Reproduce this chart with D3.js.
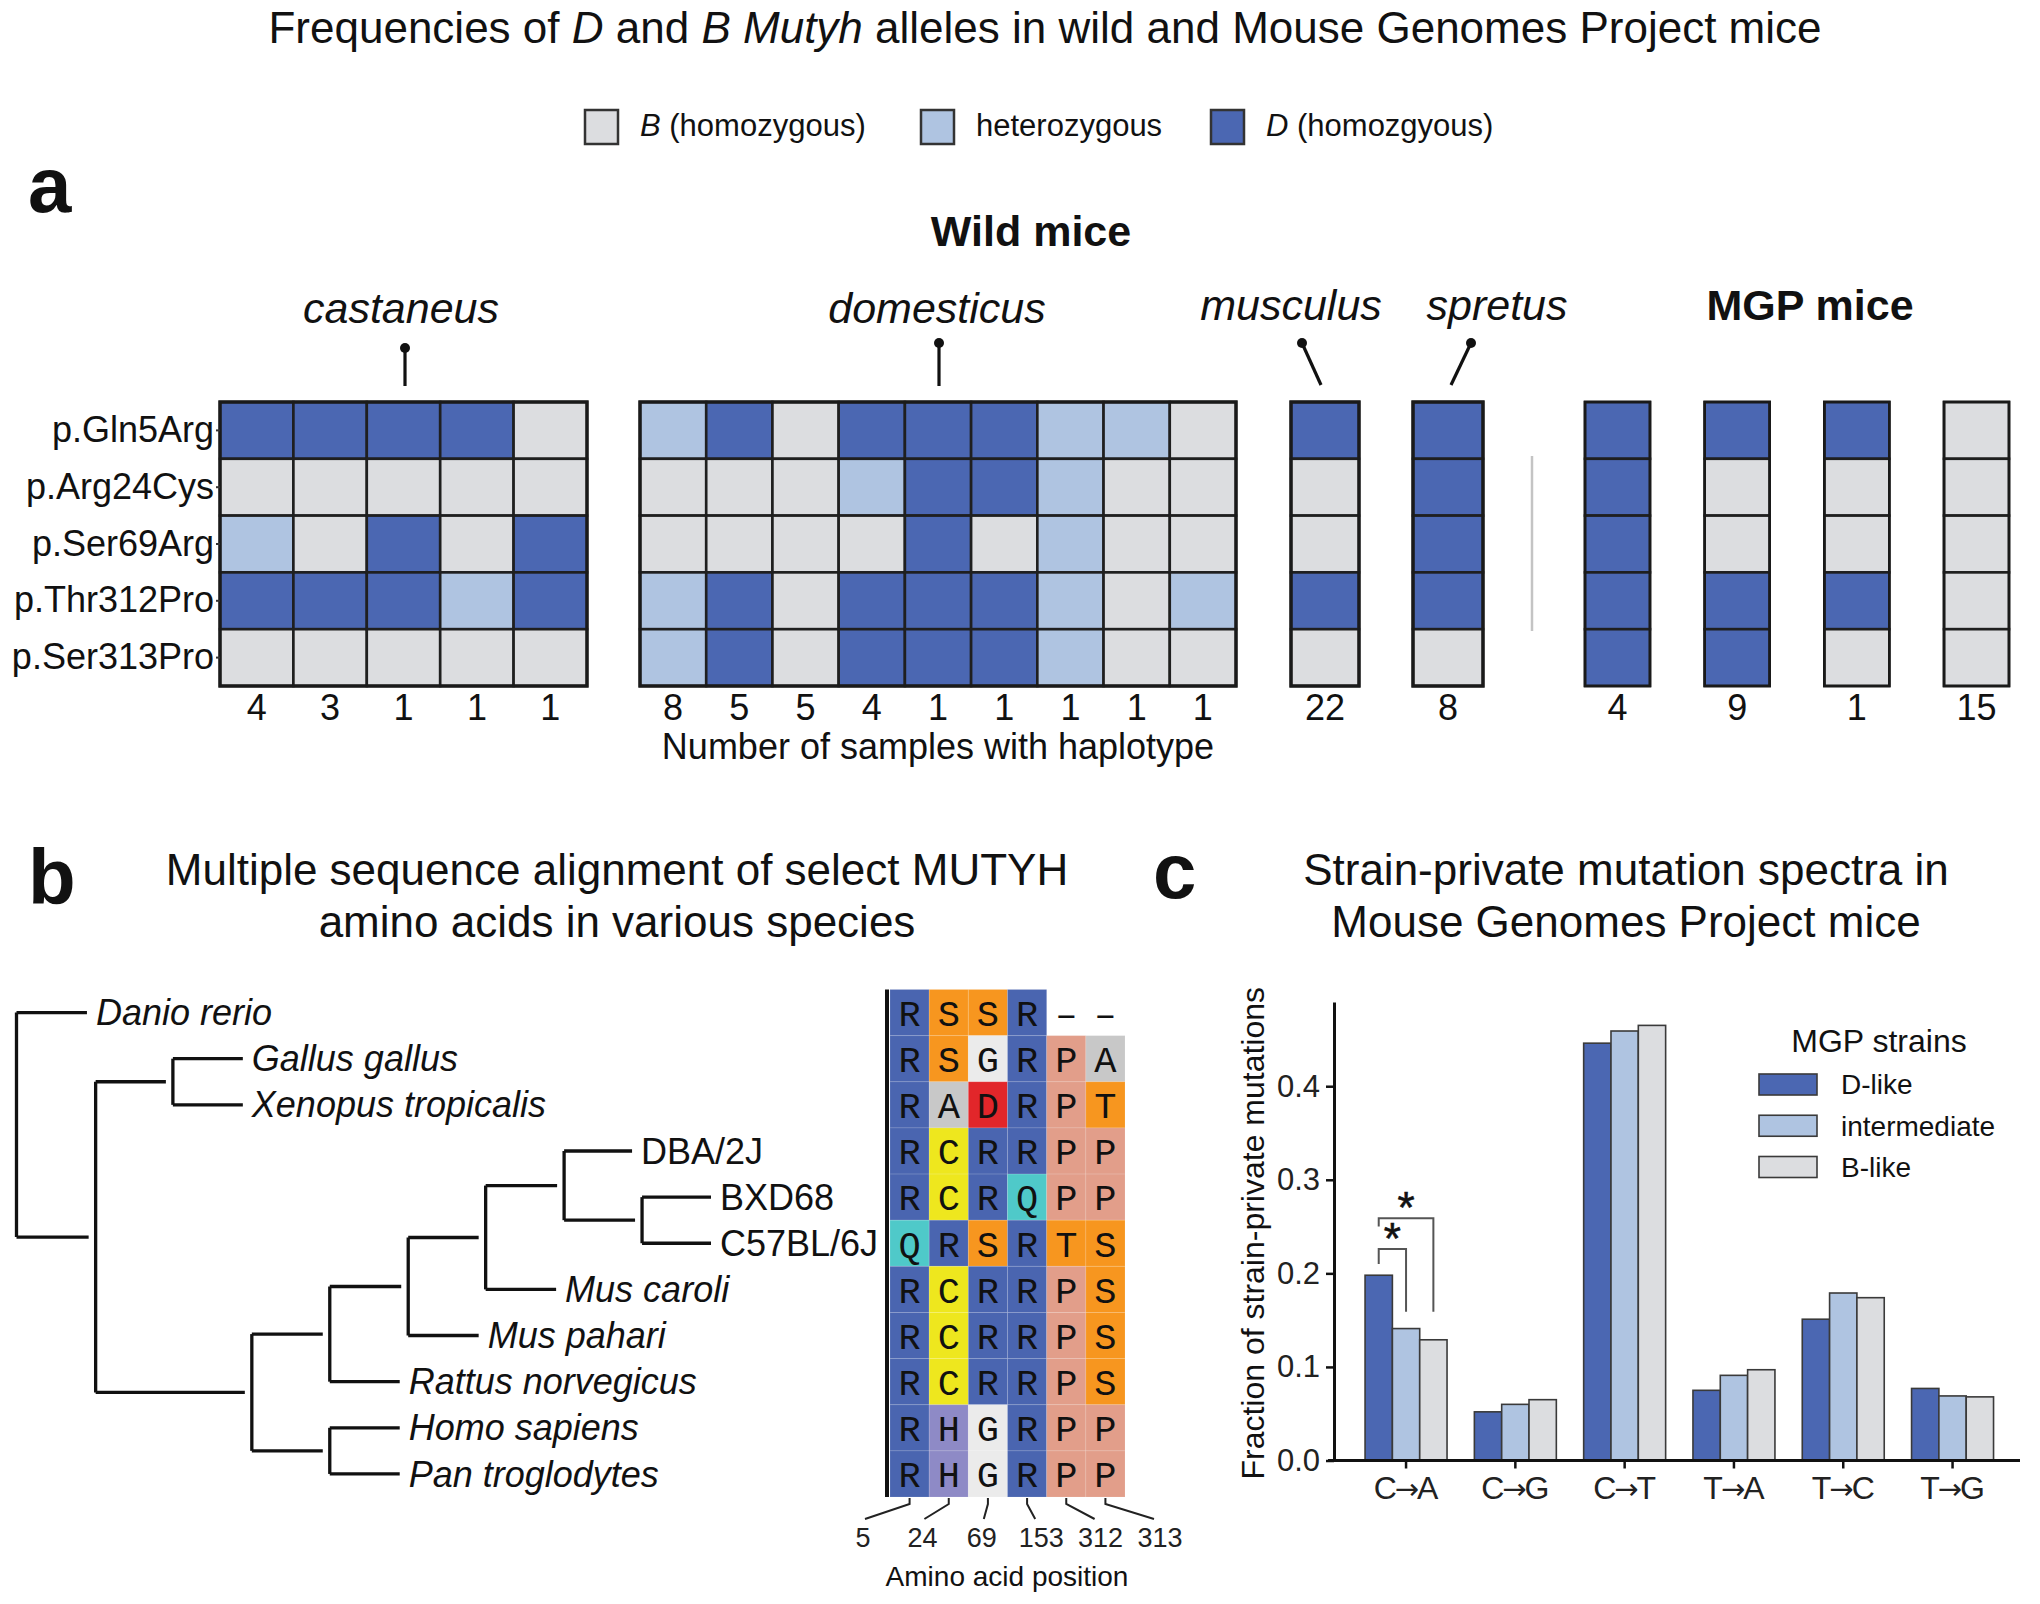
<!DOCTYPE html>
<html><head><meta charset="utf-8">
<script src="https://cdn.jsdelivr.net/npm/d3@7"></script>
<style>
body{margin:0;background:#fff;}
svg{display:block;font-family:"Liberation Sans",Arial,Helvetica,sans-serif;}
</style></head><body>
<svg id="fig" width="2040" height="1604"></svg>
<script>
// ================= DATA =================
// Panel a
const mutations = ["p.Gln5Arg","p.Arg24Cys","p.Ser69Arg","p.Thr312Pro","p.Ser313Pro"];
const genotypes = ["B","H","D"];
const genotypeLegend = [["B"," (homozygous)"],["","heterozygous"],["D"," (homozgyous)"]];
// each string = one haplotype column, letters in the order of `mutations`
const castaneusHaplotypes = ["DBHDB","DBBDB","DBDDB","DBBHB","BBDDB"];
const castaneusCounts = [4,3,1,1,1];
const domesticusHaplotypes = ["HBBHH","DBBDD","BBBBB","DHBDD","DDDDD","DDBDD","HHHHH","HBBBB","BBBHB"];
const domesticusCounts = [8,5,5,4,1,1,1,1,1];
const musculusHaplotypes = ["DBBDB"];
const musculusCounts = [22];
const spretusHaplotypes = ["DDDDB"];
const spretusCounts = [8];
const mgpHaplotypes = ["DDDDD","DBBDD","DBBDB","BBBBB"];
const mgpCounts = [4,9,1,15];

// Panel b
const tree = {children:[
  {name:"Danio rerio", len:7.05},
  {len:7.92, children:[
    {len:7.73, children:[{name:"Gallus gallus",len:7.0},{name:"Xenopus tropicalis",len:7.0}]},
    {len:15.63, children:[
      {len:7.8, children:[
        {len:7.85, children:[
          {len:7.75, children:[
            {len:7.85, children:[
              {name:"DBA/2J", len:6.8},
              {len:7.8, children:[{name:"BXD68",len:6.9},{name:"C57BL/6J",len:6.9}]}
            ]},
            {name:"Mus caroli", len:7.05}
          ]},
          {name:"Mus pahari", len:7.05}
        ]},
        {name:"Rattus norvegicus", len:7.0}
      ]},
      {len:7.8, children:[{name:"Homo sapiens",len:7.0},{name:"Pan troglodytes",len:7.0}]}
    ]}
  ]}
]};
const strainTips = ["DBA/2J","BXD68","C57BL/6J"];
const taxa = ["Danio rerio","Gallus gallus","Xenopus tropicalis","DBA/2J","BXD68","C57BL/6J",
              "Mus caroli","Mus pahari","Rattus norvegicus","Homo sapiens","Pan troglodytes"];
const sequences = ["RSSR--","RSGRPA","RADRPT","RCRRPP","RCRQPP","QRSRTS","RCRRPS","RCRRPS","RCRRPS","RHGRPP","RHGRPP"];
const aaPositions = ["5","24","69","153","312","313"];

// Panel c
const mutationClasses = ["C→A","C→G","C→T","T→A","T→C","T→G"];
const strainGroups = ["D-like","intermediate","B-like"];
const dLike        = [0.198,0.052,0.446,0.075,0.151,0.077];
const intermediate = [0.141,0.060,0.459,0.091,0.179,0.069];
const bLike        = [0.129,0.065,0.465,0.097,0.174,0.068];
const yTicks = [0.0,0.1,0.2,0.3,0.4];
const brackets = [
  {cls:"C→A", from:"D-like", to:"intermediate", top:0.226, leftEnd:0.210, rightEnd:0.159},
  {cls:"C→A", from:"D-like", to:"B-like",       top:0.259, leftEnd:0.250, rightEnd:0.159}
];

// ================= STYLE =================
const genoColor = {B:"#DCDDE0", H:"#AFC4E1", D:"#4B67B2"};
const groupColor = {"D-like":"#4B67B2","intermediate":"#AFC4E1","B-like":"#DCDDE0"};
const aaColor = {R:"#4A65B0",S:"#F7961F",T:"#F7961F",G:"#EBEBEB",A:"#C8C8C8",D:"#E2262A",
                 C:"#EEE71E",Q:"#4FC9C9",P:"#E29E8A",H:"#8E8AC6","-":"none"};

const svg = d3.select("#fig");

// ================= TITLES =================
const title = svg.append("text").attr("x",1045).attr("y",43).attr("text-anchor","middle")
  .attr("font-size",44).attr("fill","#111");
[["Frequencies of ",false],["D",true],[" and ",false],["B",true],[" ",false],["Mutyh",true],
 [" alleles in wild and Mouse Genomes Project mice",false]].forEach(([t,it])=>{
  title.append("tspan").attr("font-style",it?"italic":"normal").text(t);
});

// panel letters
[["a",28,212],["b",28,904],["c",1153,898]].forEach(([t,x,y])=>{
  svg.append("text").attr("x",x).attr("y",y).attr("font-size",78).attr("font-weight","bold")
    .attr("fill","#111").text(t);
});

// legend a
const legXpos = {B:585,H:921,D:1211};
genotypes.forEach((g,i)=>{
  const x = legXpos[g];
  svg.append("rect").attr("x",x).attr("y",110).attr("width",33).attr("height",34)
    .attr("fill",genoColor[g]).attr("stroke","#333").attr("stroke-width",2.5);
  const t = svg.append("text").attr("x",x+55).attr("y",136).attr("font-size",31).attr("fill","#111");
  if (genotypeLegend[i][0]) t.append("tspan").attr("font-style","italic").text(genotypeLegend[i][0]);
  t.append("tspan").text(genotypeLegend[i][1]);
});

// ================= PANEL A =================
const rowTop = 402, rowBottom = 686;
const yRow = d3.scaleBand().domain(mutations).range([rowTop,rowBottom]);

function drawBlock(haps, counts, range, padInner, framed){
  const g = svg.append("g");
  const x = d3.scaleBand().domain(d3.range(haps.length)).range(range).paddingInner(padInner);
  const cells = [];
  haps.forEach((h,ci)=>{ mutations.forEach((m,ri)=>cells.push({ci, m, gt:h[ri]})); });
  g.selectAll("rect.cell").data(cells).join("rect").attr("class","cell")
    .attr("x",d=>x(d.ci)).attr("y",d=>yRow(d.m))
    .attr("width",x.bandwidth()).attr("height",yRow.bandwidth())
    .attr("fill",d=>genoColor[d.gt]).attr("stroke","#1f1f1f").attr("stroke-width",2.6);
  if (framed){
    g.append("rect").attr("x",range[0]).attr("y",rowTop).attr("width",range[1]-range[0])
      .attr("height",rowBottom-rowTop).attr("fill","none").attr("stroke","#1a1a1a").attr("stroke-width",3.4);
  } else {
    haps.forEach((h,ci)=>{
      g.append("rect").attr("x",x(ci)).attr("y",rowTop).attr("width",x.bandwidth())
        .attr("height",rowBottom-rowTop).attr("fill","none").attr("stroke","#1a1a1a").attr("stroke-width",2.6);
    });
  }
  const ax = g.append("g").attr("transform",`translate(0,${rowBottom})`)
    .call(d3.axisBottom(x).tickSize(0).tickPadding(8).tickFormat(i=>counts[i]));
  ax.select(".domain").remove();
  ax.selectAll("text").attr("font-size",36).attr("font-family","Liberation Sans, Arial, sans-serif").attr("fill","#111");
  return x;
}
drawBlock(castaneusHaplotypes, castaneusCounts, [220,587], 0, true);
drawBlock(domesticusHaplotypes, domesticusCounts, [640,1236], 0, true);
drawBlock(musculusHaplotypes, musculusCounts, [1291,1359], 0, true);
drawBlock(spretusHaplotypes, spretusCounts, [1413,1483], 0, true);
drawBlock(mgpHaplotypes, mgpCounts, [1585,2009], 0.457, false);

// row labels
const yAx = svg.append("g").attr("transform","translate(220,0)")
  .call(d3.axisLeft(yRow).tickSize(4).tickPadding(2));
yAx.select(".domain").remove();
yAx.selectAll("line").attr("stroke","#333").attr("stroke-width",2);
yAx.selectAll("text").attr("font-size",36).attr("font-family","Liberation Sans, Arial, sans-serif").attr("fill","#111");

// separator
svg.append("line").attr("x1",1532).attr("x2",1532).attr("y1",456).attr("y2",631)
  .attr("stroke","#c4c4c4").attr("stroke-width",2.5);

svg.append("text").attr("x",938).attr("y",759).attr("text-anchor","middle").attr("font-size",36)
  .attr("fill","#111").text("Number of samples with haplotype");

// headings
svg.append("text").attr("x",1031).attr("y",246).attr("text-anchor","middle").attr("font-size",43)
  .attr("font-weight","bold").attr("fill","#111").text("Wild mice");
svg.append("text").attr("x",1810).attr("y",320).attr("text-anchor","middle").attr("font-size",43)
  .attr("font-weight","bold").attr("fill","#111").text("MGP mice");
const species = [
  {name:"castaneus", x:401, y:323, dot:[405,348], end:[405,386]},
  {name:"domesticus", x:937, y:323, dot:[939,343], end:[939,386]},
  {name:"musculus", x:1291, y:320, dot:[1302,343], end:[1321,385]},
  {name:"spretus", x:1497, y:320, dot:[1471,343], end:[1451,385]}
];
species.forEach(s=>{
  svg.append("text").attr("x",s.x).attr("y",s.y).attr("text-anchor","middle").attr("font-size",43)
    .attr("font-style","italic").attr("fill","#111").text(s.name);
  svg.append("line").attr("x1",s.dot[0]).attr("y1",s.dot[1]).attr("x2",s.end[0]).attr("y2",s.end[1])
    .attr("stroke","#111").attr("stroke-width",3.2);
  svg.append("circle").attr("cx",s.dot[0]).attr("cy",s.dot[1]).attr("r",5).attr("fill","#111");
});

// ================= PANEL B =================
[["Multiple sequence alignment of select MUTYH",885],["amino acids in various species",937]].forEach(([t,y])=>{
  svg.append("text").attr("x",617).attr("y",y).attr("text-anchor","middle").attr("font-size",44)
    .attr("fill","#111").text(t);
});

const yTaxa = d3.scaleBand().domain(taxa).range([989.5,1497]);
const root = d3.hierarchy(tree);
root.eachBefore(d=>{ d.dist = d.parent ? d.parent.dist + d.data.len : 0; });
root.eachAfter(d=>{
  if (d.children) d.yy = (d.children[0].yy + d.children[d.children.length-1].yy)/2;
  else d.yy = yTaxa(d.data.name) + yTaxa.bandwidth()/2;
});
const xTree = d3.scaleLinear().domain([0,69.5]).range([16.5,711]);
const tg = svg.append("g").attr("stroke","#111").attr("stroke-width",3.3).attr("fill","none");
root.descendants().forEach(d=>{
  if (d.children){
    tg.append("line").attr("x1",xTree(d.dist)).attr("x2",xTree(d.dist))
      .attr("y1",d.children[0].yy).attr("y2",d.children[d.children.length-1].yy);
  }
  if (d.parent){
    tg.append("line").attr("x1",xTree(d.parent.dist)).attr("x2",xTree(d.dist)-(d.children?7:0))
      .attr("y1",d.yy).attr("y2",d.yy);
  }
});
root.leaves().forEach(d=>{
  svg.append("text").attr("x",xTree(d.dist)+9).attr("y",d.yy).attr("dy","0.35em")
    .attr("font-size",36).attr("fill","#111")
    .attr("font-style",strainTips.includes(d.data.name)?"normal":"italic").text(d.data.name);
});

// alignment
const xAA = d3.scaleBand().domain(aaPositions).range([890,1125]);
const aaCells = [];
taxa.forEach((t,ri)=>aaPositions.forEach((p,ci)=>aaCells.push({t,p,aa:sequences[ri][ci]})));
const ag = svg.append("g");
ag.selectAll("rect").data(aaCells).join("rect")
  .attr("x",d=>xAA(d.p)).attr("y",d=>yTaxa(d.t)).attr("width",xAA.bandwidth()).attr("height",yTaxa.bandwidth())
  .attr("fill",d=>aaColor[d.aa]).attr("stroke",d=>d.aa==="-"?"none":"rgba(255,255,255,0.12)").attr("stroke-width",1);
ag.selectAll("text").data(aaCells).join("text")
  .attr("x",d=>xAA(d.p)+xAA.bandwidth()/2).attr("y",d=>yTaxa(d.t)+yTaxa.bandwidth()/2).attr("dy","0.36em")
  .attr("text-anchor","middle").attr("font-size",37).attr("font-family","'Courier New','Liberation Mono',monospace")
  .attr("fill","#111").text(d=>d.aa==="-"?"–":d.aa);
svg.append("line").attr("x1",887).attr("x2",887).attr("y1",989.5).attr("y2",1497)
  .attr("stroke","#111").attr("stroke-width",4);

const xPosLab = d3.scalePoint().domain(aaPositions).range([863,1160]);
aaPositions.forEach(p=>{
  const cx = xAA(p)+xAA.bandwidth()/2;
  svg.append("path").attr("d",`M${cx},1498V1504L${xPosLab(p)+(xPosLab(p)<cx?2:-6)},1519`)
    .attr("fill","none").attr("stroke","#222").attr("stroke-width",2);
  svg.append("text").attr("x",xPosLab(p)).attr("y",1547).attr("text-anchor","middle")
    .attr("font-size",27).attr("fill","#222").text(p);
});
svg.append("text").attr("x",1007).attr("y",1586).attr("text-anchor","middle").attr("font-size",28)
  .attr("fill","#111").text("Amino acid position");

// ================= PANEL C =================
[["Strain-private mutation spectra in",885],["Mouse Genomes Project mice",937]].forEach(([t,y])=>{
  svg.append("text").attr("x",1626).attr("y",y).attr("text-anchor","middle").attr("font-size",44)
    .attr("fill","#111").text(t);
});
const yC = d3.scaleLinear().domain([0,0.49]).range([1460.5,1002]);
const xC = d3.scaleBand().domain(mutationClasses).range([1351.4,2007.2]).paddingInner(0.25).paddingOuter(0.125);
const xSub = d3.scaleBand().domain(strainGroups).range([0,xC.bandwidth()]);
const seriesVals = {"D-like":dLike,"intermediate":intermediate,"B-like":bLike};
const barData = [];
mutationClasses.forEach((c,i)=>strainGroups.forEach(s=>barData.push({c,s,v:seriesVals[s][i]})));
svg.append("g").selectAll("rect").data(barData).join("rect")
  .attr("x",d=>xC(d.c)+xSub(d.s)).attr("y",d=>yC(d.v)).attr("width",xSub.bandwidth())
  .attr("height",d=>yC(0)-yC(d.v)).attr("fill",d=>groupColor[d.s])
  .attr("stroke","#3a3a3a").attr("stroke-width",1.6);

// axes
const yAxC = svg.append("g").attr("transform","translate(1334,0)")
  .call(d3.axisLeft(yC).tickValues(yTicks).tickFormat(d3.format(".1f")).tickSize(8).tickSizeOuter(0).tickPadding(6));
yAxC.select(".domain").attr("stroke","#111").attr("stroke-width",3);
yAxC.selectAll(".tick line").attr("stroke","#111").attr("stroke-width",2.5);
yAxC.selectAll("text").attr("font-size",31).attr("font-family","Liberation Sans, Arial, sans-serif").attr("fill","#222");
const xAxC = svg.append("g").attr("transform",`translate(0,${yC(0)})`)
  .call(d3.axisBottom(xC).tickSize(8).tickSizeOuter(0).tickPadding(8));
xAxC.select(".domain").attr("d","M1328,0H2020").attr("stroke","#111").attr("stroke-width",3);
xAxC.selectAll(".tick line").attr("stroke","#111").attr("stroke-width",2.5);
xAxC.selectAll("text").attr("font-size",32).attr("font-family","Liberation Sans, Arial, sans-serif").attr("fill","#222")
  .each(function(d){
    const parts = d.split("→");
    const t = d3.select(this).text(null);
    t.append("tspan").text(parts[0]);
    t.append("tspan").attr("dx",-2).attr("font-family","DejaVu Sans, sans-serif").attr("font-size",29).text("→");
    t.append("tspan").attr("dx",-2).text(parts[1]);
  });

svg.append("text").attr("transform",`translate(1264,${(yC(0)+yC(0.49))/2+2}) rotate(-90)`)
  .attr("text-anchor","middle").attr("font-size",32).attr("fill","#111").text("Fraction of strain-private mutations");

// significance brackets
brackets.forEach(b=>{
  const xl = xC(b.cls)+xSub(b.from)+xSub.bandwidth()/2;
  const xr = xC(b.cls)+xSub(b.to)+xSub.bandwidth()/2;
  svg.append("path").attr("d",`M${xl},${yC(b.leftEnd)}V${yC(b.top)}H${xr}V${yC(b.rightEnd)}`)
    .attr("fill","none").attr("stroke","#555").attr("stroke-width",2);
  svg.append("text").attr("x",(xl+xr)/2).attr("y",yC(b.top)+5).attr("text-anchor","middle")
    .attr("font-size",44).attr("fill","#111").attr("stroke","#111").attr("stroke-width",0.6).text("*");
});

// legend c
svg.append("text").attr("x",1879).attr("y",1052).attr("text-anchor","middle").attr("font-size",32)
  .attr("fill","#111").text("MGP strains");
const yLeg = d3.scalePoint().domain(strainGroups).range([1084.5,1167]);
strainGroups.forEach(s=>{
  svg.append("rect").attr("x",1759).attr("y",yLeg(s)-10.5).attr("width",58).attr("height",21)
    .attr("fill",groupColor[s]).attr("stroke","#3a3a3a").attr("stroke-width",1.6);
  svg.append("text").attr("x",1841).attr("y",yLeg(s)).attr("dy","0.35em").attr("font-size",28)
    .attr("fill","#111").text(s);
});
</script>
</body></html>
